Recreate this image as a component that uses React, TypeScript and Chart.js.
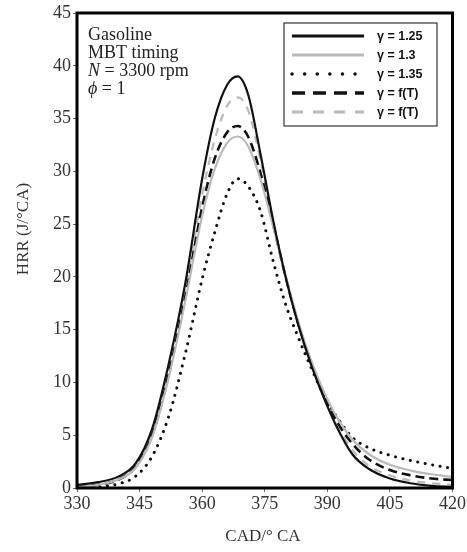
import React, { useEffect, useRef } from "react";
import { Chart, registerables } from "chart.js";

Chart.register(...registerables);

const CAD = [330, 335, 340, 344, 348, 352, 356, 360, 363, 366, 368.5, 371, 374, 377, 380, 383, 386, 389, 392, 396, 400, 405, 410, 415, 420];

const GAMMA_125 = [0.3, 0.55, 1.1, 2.3, 5.6, 11.8, 19.5, 29.3, 35, 38.2, 39, 37.3, 31.6, 25.4, 20, 15.5, 11.8, 8.7, 6.0, 3.2, 1.8, 0.9, 0.45, 0.2, 0.1];
const GAMMA_13 = [0.1, 0.3, 0.8, 1.9, 4.8, 10.5, 17.8, 25.8, 30.2, 32.7, 33.3, 32.4, 29.2, 24.8, 20.1, 15.8, 12.2, 9.3, 6.9, 4.6, 3.2, 2.2, 1.65, 1.3, 1.05];
const GAMMA_135 = [0, 0.1, 0.4, 1.1, 3.0, 6.8, 12.8, 19.8, 24.2, 27.9, 29.3, 28.6, 26.2, 21.5, 17.4, 14.3, 11.5, 8.9, 6.9, 4.8, 3.8, 3.1, 2.6, 2.2, 1.85];
const GAMMA_FT_BLACK = [0.1, 0.3, 0.8, 2.0, 5.0, 10.8, 18.2, 26.6, 31.2, 33.7, 34.3, 33.3, 29.8, 25, 20, 15.6, 12, 9, 6.5, 4.2, 2.7, 1.7, 1.2, 0.9, 0.75];
const GAMMA_FT_GRAY = [0.15, 0.35, 0.9, 2.1, 5.2, 11.2, 18.8, 27.8, 33, 36.2, 37, 35.8, 31, 25.2, 20, 15.6, 11.9, 8.8, 6.2, 3.6, 2.1, 1.2, 0.7, 0.45, 0.3];

const SERIES_LABELS = ["γ = 1.25", "γ = 1.3", "γ = 1.35", "γ = f(T)", "γ = f(T)"];
const ANNOTATION = ["Gasoline", "MBT timing"];
const X_TITLE = "CAD/° CA";
const Y_TITLE = "HRR (J/°CA)";
const X_MIN = 330, X_MAX = 420, X_STEP = 15;
const Y_MIN = 0, Y_MAX = 45, Y_STEP = 5;

const BLACK = "#111111";
const GRAY = "#bababa";

const styles = [
  { color: BLACK, width: 2.2, dash: [] as number[], cap: "butt", lw: 3, ldash: [] as number[] },
  { color: GRAY, width: 2.2, dash: [], cap: "butt", lw: 3, ldash: [] },
  { color: BLACK, width: 3, dash: [0.1, 7.5], cap: "round", lw: 3.5, ldash: [0.1, 12.5] },
  { color: BLACK, width: 2.6, dash: [9, 5], cap: "butt", lw: 3.5, ldash: [13, 8] },
  { color: GRAY, width: 2.2, dash: [8, 7], cap: "butt", lw: 2.8, ldash: [11, 10] },
];

const SERIES = [GAMMA_125, GAMMA_13, GAMMA_135, GAMMA_FT_BLACK, GAMMA_FT_GRAY];

const overlay = {
  id: "overlay",
  afterDraw(chart: any) {
    const { ctx, chartArea: a } = chart;
    ctx.save();
    // frame
    ctx.lineWidth = 3;
    ctx.strokeStyle = "#000";
    ctx.setLineDash([]);
    ctx.strokeRect(a.left, a.top, a.right - a.left, a.bottom - a.top);

    // annotation text
    ctx.fillStyle = "#222";
    ctx.textBaseline = "alphabetic";
    ctx.textAlign = "left";
    const serif = "'Liberation Serif', serif";
    ctx.font = `18px ${serif}`;
    ctx.fillText(ANNOTATION[0], 88, 40);
    ctx.fillText(ANNOTATION[1], 88, 58);
    ctx.font = `italic 18px ${serif}`;
    ctx.fillText("N", 88, 76);
    let w = ctx.measureText("N").width;
    ctx.font = `18px ${serif}`;
    ctx.fillText(" = 3300 rpm", 88 + w, 76);
    ctx.font = `italic 18px ${serif}`;
    ctx.fillText("ϕ", 88, 94);
    w = ctx.measureText("ϕ").width;
    ctx.font = `18px ${serif}`;
    ctx.fillText(" = 1", 88 + w, 94);

    // legend
    const bx = 284, by = 23, bw = 153, bh = 103;
    ctx.fillStyle = "#fff";
    ctx.fillRect(bx, by, bw, bh);
    ctx.lineWidth = 1.2;
    ctx.strokeStyle = "#333";
    ctx.strokeRect(bx, by, bw, bh);
    const rows = [36, 55, 74, 93, 112];
    chart.data.datasets.forEach((ds: any, i: number) => {
      const s = styles[i];
      const y = rows[i];
      ctx.beginPath();
      ctx.strokeStyle = s.color;
      ctx.lineWidth = s.lw;
      ctx.lineCap = s.cap;
      ctx.setLineDash(s.ldash);
      ctx.moveTo(292, y);
      ctx.lineTo(364, y);
      ctx.stroke();
      ctx.setLineDash([]);
      ctx.lineCap = "butt";
      ctx.fillStyle = "#111";
      ctx.font = "bold 12.5px 'Liberation Sans', Arial, sans-serif";
      ctx.textBaseline = "middle";
      ctx.fillText(ds.label, 377, y + 1);
    });

    // axis titles
    ctx.fillStyle = "#333";
    ctx.font = `17px ${serif}`;
    ctx.textAlign = "center";
    ctx.textBaseline = "middle";
    ctx.fillText(X_TITLE, 263, 537);
    ctx.save();
    ctx.translate(24, 229);
    ctx.rotate(-Math.PI / 2);
    ctx.fillText(Y_TITLE, 0, 0);
    ctx.restore();
    ctx.restore();
  },
};

export default function App() {
  const ref = useRef<HTMLCanvasElement | null>(null);
  useEffect(() => {
    if (!ref.current) return;
    const datasets = SERIES.map((arr, i) => ({
      label: SERIES_LABELS[i],
      data: CAD.map((x, j) => ({ x, y: arr[j] })),
      borderColor: styles[i].color,
      borderWidth: styles[i].width,
      borderDash: styles[i].dash,
      borderCapStyle: styles[i].cap,
      pointRadius: 0,
      fill: false,
      cubicInterpolationMode: "monotone" as const,
    }));
    const tickFont = { family: "'Liberation Serif', serif", size: 18 };
    const chart = new Chart(ref.current, {
      type: "line",
      data: { datasets },
      options: {
        animation: false,
        responsive: true,
        maintainAspectRatio: false,
        layout: { padding: { top: 13, right: 14, left: 0, bottom: 0 } },
        plugins: { legend: { display: false }, tooltip: { enabled: false } },
        scales: {
          x: {
            type: "linear",
            min: X_MIN,
            max: X_MAX,
            ticks: { stepSize: X_STEP, color: "#333", font: tickFont, padding: 1, maxRotation: 0 },
            grid: { drawOnChartArea: false, drawTicks: true, tickLength: 4, color: "#666" },
            border: { display: false },
            afterFit: (s: any) => { s.height = 64; },
          },
          y: {
            min: Y_MIN,
            max: Y_MAX,
            ticks: { stepSize: Y_STEP, color: "#333", font: tickFont, padding: 2 },
            grid: { drawOnChartArea: false, drawTicks: true, tickLength: 4, color: "#666" },
            border: { display: false },
            afterFit: (s: any) => { s.width = 77; },
          },
        },
      },
      plugins: [overlay],
    });
    return () => chart.destroy();
  }, []);
  return (
    <div style={{ position: "fixed", left: 0, top: 0, width: 467, height: 552, background: "#fff" }}>
      <canvas ref={ref} />
    </div>
  );
}
